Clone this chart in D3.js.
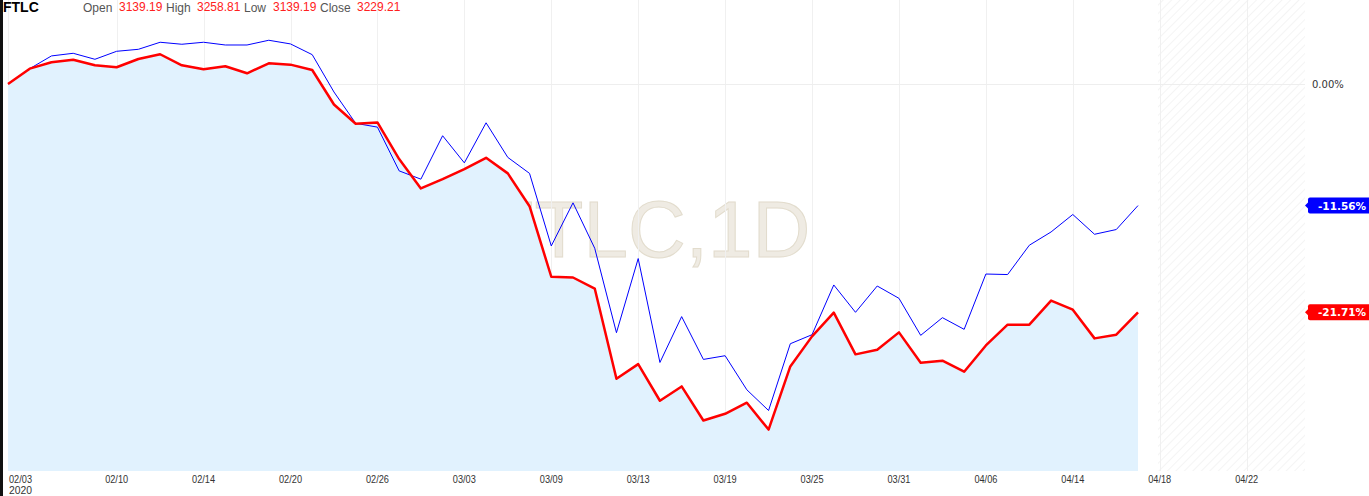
<!DOCTYPE html>
<html><head><meta charset="utf-8">
<script src="https://cdn.jsdelivr.net/npm/d3@7"></script>
<style>
html,body{margin:0;padding:0;background:#fff;overflow:hidden}
svg{display:block;font-family:"Liberation Sans",Arial,sans-serif}
</style></head>
<body>
<svg id="c" width="1369" height="496"></svg>
<script>
// ---- data ----
const dates = ["02/03","02/04","02/05","02/06","02/07","02/10","02/11","02/12","02/13","02/14",
"02/17","02/18","02/19","02/20","02/21","02/24","02/25","02/26","02/27","02/28",
"03/02","03/03","03/04","03/05","03/06","03/09","03/10","03/11","03/12","03/13",
"03/16","03/17","03/18","03/19","03/20","03/23","03/24","03/25","03/26","03/27",
"03/30","03/31","04/01","04/02","04/03","04/06","04/07","04/08","04/09","04/14",
"04/15","04/16","04/17"];
// FTLC main series (% change, red)
const ftlc = [0,1.46,2.07,2.31,1.78,1.59,2.38,2.83,1.78,1.40,
1.69,1.02,1.97,1.84,1.33,-1.95,-3.78,-3.65,-7.14,-9.93,
-9.05,-8.10,-7.02,-8.50,-11.62,-18.33,-18.40,-19.45,-28.03,-26.64,
-30.12,-28.76,-32.00,-31.36,-30.31,-32.86,-26.86,-24.00,-21.74,-25.71,
-25.27,-23.62,-26.50,-26.31,-27.36,-24.86,-22.89,-22.89,-20.60,-21.46,
-24.19,-23.84,-21.71];
// comparison series (% change, blue)
const compare = [0,1.46,2.67,2.92,2.35,3.11,3.30,3.97,3.78,3.97,
3.71,3.71,4.16,3.81,2.79,-0.76,-3.74,-4.10,-8.26,-9.05,
-4.92,-7.50,-3.69,-6.98,-8.50,-15.40,-11.30,-15.62,-23.65,-16.60,
-26.48,-22.12,-26.19,-25.84,-29.08,-31.05,-24.70,-23.84,-19.11,-21.71,
-19.21,-20.38,-23.90,-22.22,-23.33,-18.07,-18.12,-15.33,-14.07,-12.41,
-14.29,-13.84,-11.56];
// x tick labels (index on the trading-day axis)
const tickIdx = [0,5,9,13,17,21,25,29,33,37,41,45,49,53,57];
const tickLabels = ["02/03","02/10","02/14","02/20","02/26","03/03","03/09","03/13","03/19","03/25","03/31","04/06","04/14","04/18","04/22"];
const yTicks = [0];
const header = [["Open","3139.19"],["High","3258.81"],["Low","3139.19"],["Close","3229.21"]];

// ---- layout ----
const svg = d3.select("#c");
const plotLeft = 8, plotRight = 1305, plotTop = 0, plotBottom = 471;
const x = d3.scaleLinear().domain([0, 52]).range([plotLeft, 1138]);
const y = d3.scaleLinear().domain([0, -21.71]).range([84, 312.3]);

// watermark
svg.append("text").attr("x", 648).attr("y", 257).attr("text-anchor","middle")
  .attr("font-size", 80).attr("fill", "#efebe3").attr("stroke","#e2dccd").attr("stroke-width",1)
  .text("FTLC,1D");

// hatched future area
const defs = svg.append("defs");
const pat = defs.append("pattern").attr("id","hatch").attr("patternUnits","userSpaceOnUse")
  .attr("width",6).attr("height",6).attr("patternTransform","rotate(45)");
pat.append("line").attr("x1",0).attr("y1",0).attr("x2",0).attr("y2",6)
  .attr("stroke","#ececec").attr("stroke-width",1.2);
const hatchX0 = x(52) + 20;
svg.append("rect").attr("x", hatchX0).attr("y", plotTop).attr("width", plotRight - hatchX0)
  .attr("height", plotBottom - plotTop).attr("fill","url(#hatch)");

// vertical grid
svg.append("g").selectAll("line").data(tickIdx).join("line")
  .attr("x1", d => Math.round(x(d)) + 0.5).attr("x2", d => Math.round(x(d)) + 0.5)
  .attr("y1", plotTop).attr("y2", plotBottom).attr("stroke", "#f0f0f0");
// horizontal grid
svg.append("g").selectAll("line").data(yTicks).join("line")
  .attr("x1", plotLeft).attr("x2", plotRight)
  .attr("y1", d => Math.round(y(d)) + 0.5).attr("y2", d => Math.round(y(d)) + 0.5)
  .attr("stroke", "#eeeeee");

// area under main series
const area = d3.area().x((d,i) => x(i)).y0(plotBottom).y1(d => y(d));
svg.append("path").datum(ftlc).attr("d", area).attr("fill", "#e1f2fe");

// lines
const line = d3.line().x((d,i) => x(i)).y(d => y(d));
svg.append("path").datum(compare).attr("d", line).attr("fill","none")
  .attr("stroke","#0000ff").attr("stroke-width",1);
svg.append("path").datum(ftlc).attr("d", line).attr("fill","none")
  .attr("stroke","#ff0000").attr("stroke-width",2.5).attr("stroke-linejoin","round");

// x axis labels
const xa = svg.append("g").attr("font-size", 11).attr("fill", "#333");
xa.selectAll("text").data(tickIdx).join("text")
  .attr("x", (d,i) => i === 0 ? x(d) + 1 : x(d))
  .attr("text-anchor", (d,i) => i === 0 ? "start" : "middle")
  .attr("y", 483).text((d,i) => tickLabels[i])
  .attr("textLength", 23).attr("lengthAdjust","spacingAndGlyphs");
xa.append("text").attr("x", x(0) + 1).attr("y", 494).text("2020")
  .attr("textLength", 23).attr("lengthAdjust","spacingAndGlyphs");

// right axis
svg.append("g").selectAll("text").data(yTicks).join("text")
  .attr("x", 1312).attr("y", d => y(d) + 3.5).attr("font-size", 10)
  .attr("font-family","DejaVu Sans, sans-serif").attr("fill","#333")
  .text(d => d.toFixed(2) + "%");

// last value badges
function badge(val, color) {
  const cy = y(val);
  const g = svg.append("g");
  g.append("path").attr("d", `M1305,${cy} L1309,${cy-4} L1309,${cy+4} Z`).attr("fill", color);
  g.append("rect").attr("x", 1308).attr("y", cy - 8).attr("width", 66).attr("height", 16)
    .attr("rx", 2).attr("fill", color);
  g.append("text").attr("x", 1318).attr("y", cy + 4).attr("font-size", 10.5)
    .attr("font-family","DejaVu Sans, sans-serif")
    .attr("font-weight","bold").attr("fill","#fff").text(val.toFixed(2) + "%");
}
badge(compare[compare.length-1], "#0000ff");
badge(ftlc[ftlc.length-1], "#ff0000");

// header
svg.append("text").attr("x", 3).attr("y", 12).attr("font-size", 14).attr("font-weight","bold")
  .attr("fill","#000").text("FTLC");
const hx = [[83,119],[166,197],[244,273],[320,357]];
header.forEach((h,i) => {
  svg.append("text").attr("x", hx[i][0]).attr("y", 12).attr("font-size", 12).attr("fill","#555").text(h[0]);
  svg.append("text").attr("x", hx[i][1]).attr("y", 11).attr("font-size", 12).attr("fill","#ff2020").text(h[1]);
});

// left dark edge
svg.append("rect").attr("x",0).attr("y",0).attr("width",3).attr("height",496).attr("fill","#111");
</script>
</body></html>
